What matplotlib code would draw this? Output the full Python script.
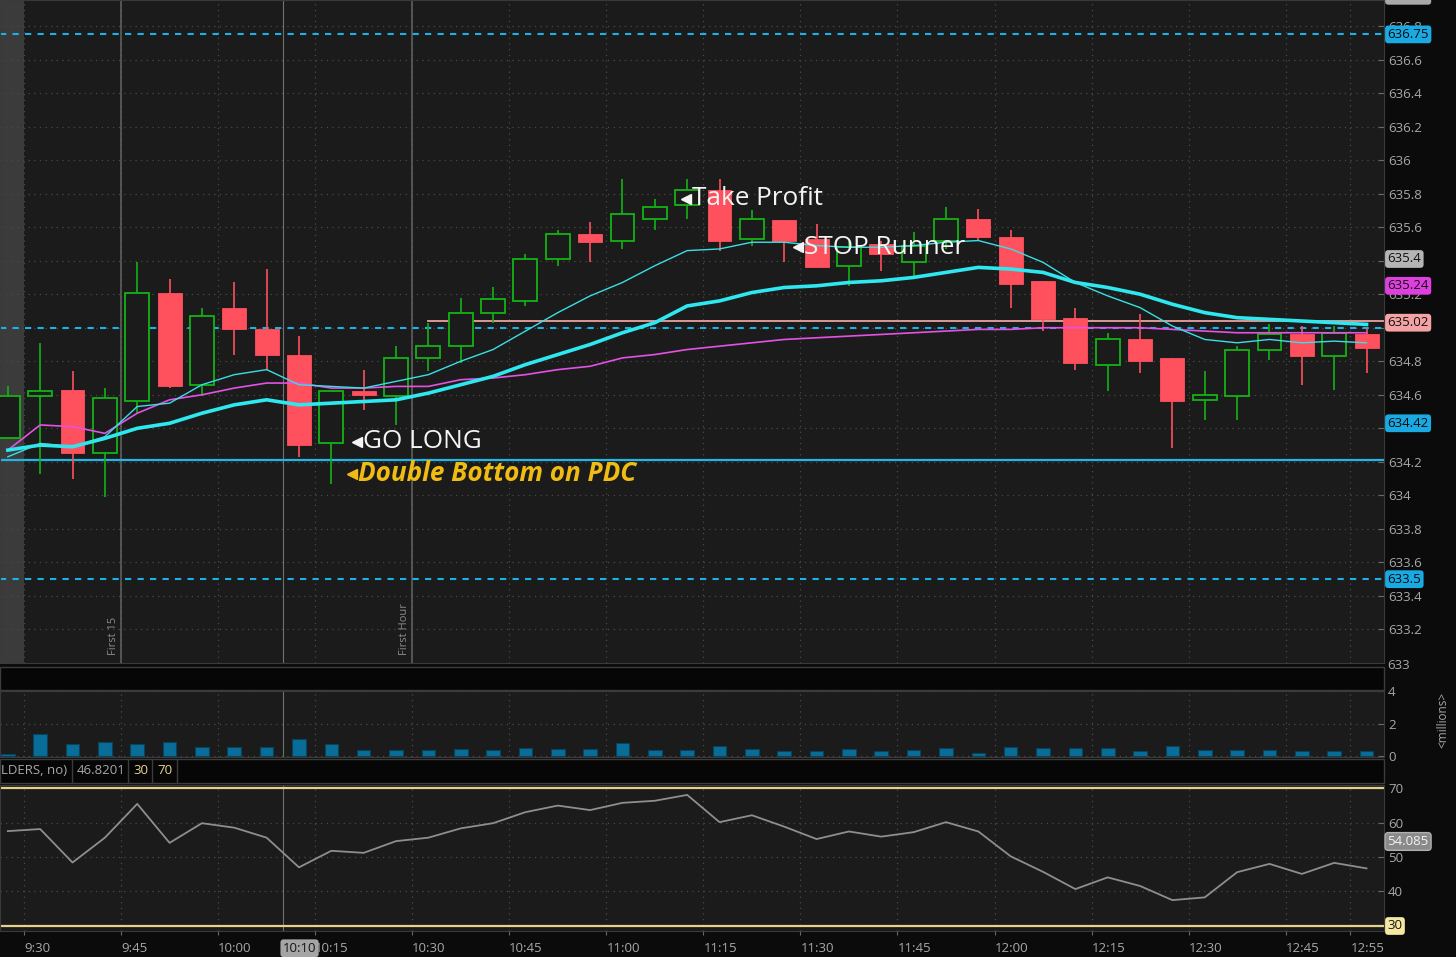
import matplotlib.pyplot as plt
from matplotlib.patches import Rectangle
from matplotlib.lines import Line2D
from matplotlib.transforms import blended_transform_factory
import numpy as np
import pandas as pd

plt.rcParams['font.family'] = ['Open Sans', 'DejaVu Sans']

# 5 min bars, first one is the 9:25 pre-market bar
bar_times = pd.date_range('2021-01-01 09:25', periods=43, freq='5min')

opens = [634.34, 634.59, 634.63, 634.25, 634.56, 635.21, 634.66, 635.12, 634.99, 634.84,
         634.31, 634.62, 634.59, 634.82, 634.89, 635.09, 635.16, 635.41, 635.56, 635.52,
         635.65, 635.73, 635.82, 635.53, 635.64, 635.53, 635.37, 635.50, 635.39, 635.52,
         635.65, 635.54, 635.28, 635.06, 634.78, 634.93, 634.82, 634.57, 634.59, 634.87,
         634.96, 634.83, 634.96]
highs = [634.65, 634.91, 634.74, 634.64, 635.39, 635.29, 635.12, 635.27, 635.35, 634.95,
         634.62, 634.75, 634.89, 635.03, 635.18, 635.24, 635.44, 635.58, 635.63, 635.89,
         635.77, 635.89, 635.89, 635.70, 635.64, 635.62, 635.52, 635.52, 635.57, 635.72,
         635.71, 635.58, 635.28, 635.12, 634.97, 635.08, 634.82, 634.74, 634.89, 635.02,
         635.01, 635.01, 634.99]
lows = [634.34, 634.13, 634.10, 633.99, 634.49, 634.64, 634.59, 634.84, 634.75, 634.23,
        634.07, 634.51, 634.42, 634.74, 634.79, 635.03, 635.13, 635.37, 635.39, 635.47,
        635.58, 635.65, 635.46, 635.49, 635.39, 635.36, 635.25, 635.34, 635.30, 635.47,
        635.52, 635.12, 634.98, 634.75, 634.62, 634.73, 634.28, 634.45, 634.45, 634.81,
        634.66, 634.63, 634.73]
closes = [634.59, 634.62, 634.25, 634.58, 635.21, 634.65, 635.07, 634.99, 634.84, 634.30,
          634.62, 634.60, 634.82, 634.89, 635.09, 635.17, 635.41, 635.56, 635.51, 635.68,
          635.72, 635.82, 635.52, 635.65, 635.52, 635.36, 635.48, 635.44, 635.49, 635.65,
          635.54, 635.26, 635.05, 634.79, 634.93, 634.80, 634.56, 634.60, 634.87, 634.96,
          634.83, 634.97, 634.88]

ema_fast = [634.23, 634.31, 634.29, 634.35, 634.53, 634.55, 634.66, 634.72, 634.75, 634.66,
            634.65, 634.64, 634.68, 634.72, 634.80, 634.87, 634.98, 635.09, 635.19, 635.27,
            635.37, 635.46, 635.47, 635.51, 635.51, 635.49, 635.48, 635.48, 635.49, 635.51,
            635.52, 635.47, 635.39, 635.27, 635.19, 635.12, 635.01, 634.93, 634.91, 634.93,
            634.91, 634.92, 634.91]
ema_slow = [634.27, 634.30, 634.29, 634.34, 634.40, 634.43, 634.49, 634.54, 634.57, 634.54,
            634.55, 634.56, 634.57, 634.61, 634.66, 634.71, 634.78, 634.84, 634.90, 634.97,
            635.03, 635.13, 635.16, 635.21, 635.24, 635.25, 635.27, 635.28, 635.30, 635.33,
            635.36, 635.35, 635.33, 635.27, 635.24, 635.20, 635.14, 635.09, 635.06, 635.05,
            635.04, 635.03, 635.02]
vwap = [634.27, 634.42, 634.41, 634.37, 634.49, 634.57, 634.60, 634.64, 634.67, 634.67,
        634.64, 634.64, 634.65, 634.65, 634.69, 634.70, 634.72, 634.75, 634.77, 634.82,
        634.84, 634.87, 634.89, 634.91, 634.93, 634.94, 634.95, 634.96, 634.97, 634.98,
        634.99, 634.99, 635.00, 635.00, 635.00, 635.00, 634.99, 634.98, 634.97, 634.97,
        634.97, 634.97, 634.97]

volume = [0.10, 1.37, 0.77, 0.85, 0.77, 0.85, 0.57, 0.57, 0.57, 1.03,
          0.71, 0.36, 0.36, 0.36, 0.44, 0.36, 0.48, 0.42, 0.42, 0.79,
          0.36, 0.36, 0.60, 0.42, 0.30, 0.30, 0.42, 0.30, 0.36, 0.48,
          0.18, 0.53, 0.47, 0.47, 0.47, 0.33, 0.60, 0.39, 0.39, 0.39,
          0.33, 0.33, 0.33]

rsi = [57.5, 58.1, 48.4, 55.6, 65.4, 54.1, 59.8, 58.5, 55.6, 47.0,
       51.8, 51.2, 54.6, 55.6, 58.3, 59.8, 63.0, 64.9, 63.6, 65.7,
       66.3, 68.0, 60.1, 62.1, 58.8, 55.2, 57.4, 55.9, 57.2, 60.1,
       57.4, 50.2, 45.7, 40.7, 44.1, 41.6, 37.5, 38.3, 45.6, 48.0,
       45.1, 48.3, 46.7]

# price levels drawn on the chart
dashed_levels = [636.75, 635.00, 633.50]
pdc_level = 634.21
salmon_level = 635.04

# right axis badges: (text, value, face, text colour)
price_badges = [('636.98', 636.98, '#a9a9a9', '#101010'),
                ('636.75', 636.75, '#19a9e3', '#0a0a0a'),
                ('635.4', 635.41, '#b5b5b5', '#101010'),
                ('635.24', 635.25, '#e03fe0', '#101010'),
                ('635.02', 635.03, '#f3a3a3', '#101010'),
                ('634.42', 634.43, '#19a9e3', '#0a0a0a'),
                ('633.5', 633.50, '#19a9e3', '#0a0a0a')]
# tick labels fully hidden behind a badge in the original
hidden_ticks = [635.4, 635.0, 634.4]

# minutes after 9:30 for every bar centre
xc = np.array([(t.hour * 60 + t.minute) - 570 + 2.5 for t in bar_times])

W, H = 1456, 957
BG = '#1b1b1b'
FIG_BG = '#0b0b0b'
GRID = '#4a4a4a'
TXT = '#a8a8a8'
RED = '#ff515d'
GREEN = '#14b214'


def rect(x0, y0, x1, y1):
    return [x0 / W, 1 - y1 / H, (x1 - x0) / W, (y1 - y0) / H]


fig = plt.figure(figsize=(W / 100, H / 100), dpi=100, facecolor=FIG_BG)

ax = fig.add_axes(rect(0, 0, 1384, 663))
ax_vol = fig.add_axes(rect(0, 691, 1384, 757), sharex=ax)
ax_rsi = fig.add_axes(rect(0, 785, 1384, 931), sharex=ax)

xmin, xmax = -3.71, 210.2
ticks15 = list(range(0, 200, 15)) + [205]

for a in (ax, ax_vol, ax_rsi):
    a.set_facecolor(BG)
    for s in a.spines.values():
        s.set_color('#3a3a3a')
    a.yaxis.tick_right()
    a.tick_params(axis='y', direction='in', length=4, colors='#6a6a6a',
                  labelcolor=TXT, labelsize=9.5, pad=3)
    a.set_xticks(ticks15)
    a.grid(True, ls=(0, (1, 3.5)), color=GRID, lw=0.9)
    a.set_axisbelow(True)
    a.axvline(40, color='#707070', lw=0.8, zorder=1)  # 10:10 cursor

ax.set_xlim(xmin, xmax)

# ---------------- price panel ----------------
ax.set_ylim(633.0, 636.955)
pticks = np.round(np.arange(633.2, 636.81, 0.2), 1)
ax.set_yticks(pticks)
ax.set_yticklabels(['' if v in hidden_ticks else f'{v:g}' for v in pticks])
ax.tick_params(axis='x', length=0, labelbottom=False)
ax.text(1.0025, 632.985, '633', transform=blended_transform_factory(ax.transAxes, ax.transData),
        ha='left', va='center', fontsize=9.5, color=TXT, clip_on=False, zorder=1)

ax.axvspan(xmin, 0, color='#3b3b3b', zorder=0.5, lw=0)
for m in (15, 60):
    ax.axvline(m, color='#5e5e5e', lw=1.2, zorder=1)
ax.text(13.8, 633.05, 'First 15', rotation=90, color='#8c8c8c', fontsize=8,
        ha='center', va='bottom')
ax.text(58.8, 633.05, 'First Hour', rotation=90, color='#8c8c8c', fontsize=8,
        ha='center', va='bottom')

for lv in dashed_levels:
    ax.axhline(lv, color='#1cb2e8', lw=1.5, ls=(0, (3, 3)), zorder=2)
ax.axhline(pdc_level, color='#22b6e6', lw=1.6, zorder=2)
ax.plot([xc[13], xmax], [salmon_level, salmon_level], color='#e8a3a3', lw=1.3, zorder=2)

w = 3.7
for x, o, h, l, c in zip(xc, opens, highs, lows, closes):
    if c >= o:
        ax.vlines(x, c, h, color=GREEN, lw=1.2, zorder=3)
        ax.vlines(x, l, o, color=GREEN, lw=1.2, zorder=3)
        ax.add_patch(Rectangle((x - w / 2, o), w, max(c - o, 0.012), facecolor=BG,
                               edgecolor=GREEN, lw=1.3, zorder=3))
    else:
        ax.vlines(x, l, h, color=RED, lw=1.2, zorder=3)
        ax.add_patch(Rectangle((x - w / 2, c), w, max(o - c, 0.012), facecolor=RED,
                               edgecolor=RED, lw=0.6, zorder=3))

ax.plot(xc, vwap, color='#e452e4', lw=1.2, zorder=4)
ax.plot(xc, ema_slow, color='#2ee7ef', lw=2.6, zorder=4)
ax.plot(xc, ema_fast, color='#3adfe6', lw=1.0, zorder=4)

notes = [(102.3, 635.77, 'Take Profit', '#f4f4f4', 'normal', 'normal'),
         (119.6, 635.48, 'STOP Runner', '#f4f4f4', 'normal', 'normal'),
         (51.5, 634.32, 'GO LONG', '#f4f4f4', 'normal', 'normal'),
         (50.7, 634.13, 'Double Bottom on PDC', '#f0bc14', 'bold', 'italic')]
for x, y, s, col, fw, st in notes:
    ax.plot(x, y, marker='<', ms=6.5, color=col, mec=col, zorder=6)
    ax.text(x + 0.9, y, s, color=col, fontsize=18.8, fontweight=fw, fontstyle=st,
            ha='left', va='center', zorder=6)

btr = blended_transform_factory(ax.transAxes, ax.transData)
for s, v, fc, tc in price_badges:
    ax.text(1.0025, v, s, transform=btr, ha='left', va='center', fontsize=9.5,
            color=tc, clip_on=False, zorder=10,
            bbox=dict(boxstyle='round,pad=0.18,rounding_size=0.25', fc=fc, ec='none'))

# ---------------- volume panel ----------------
ax_vol.set_ylim(-0.06, 3.99)
ax_vol.set_yticks([0, 2, 4])
ax_vol.tick_params(axis='x', length=0, labelbottom=False)
ax_vol.bar(xc, volume, width=2.1, color='#0a6d97', edgecolor='#06435e', lw=0.8, zorder=3)
fig.text(1443 / W, 1 - 720 / H, '<millions>', rotation=90, color=TXT, fontsize=8.5,
         ha='center', va='center')

# ---------------- RSI panel ----------------
ax_rsi.set_ylim(28.55, 70.87)
ax_rsi.set_yticks([30, 40, 50, 60, 70])
ax_rsi.set_yticklabels(['', '40', '50', '60', '70'])
ax_rsi.axhline(70, color='#e6d18b', lw=1.6, zorder=2)
ax_rsi.axhline(30, color='#e6d18b', lw=1.6, zorder=2)
ax_rsi.plot(xc, rsi, color='#8e8e8e', lw=1.3, zorder=3)

labels = []
for m in ticks15:
    hh, mm = divmod(570 + m, 60)
    labels.append(f'{hh}:{mm:02d}')
ax_rsi.set_xticklabels(labels)
ax_rsi.tick_params(axis='x', direction='out', length=3, colors='#6a6a6a',
                   labelcolor=TXT, labelsize=9.5, pad=5)
for lb in ax_rsi.get_xticklabels():
    lb.set_horizontalalignment('left')

rtr = blended_transform_factory(ax_rsi.transAxes, ax_rsi.transData)
ax_rsi.text(1.0025, 54.5, '54.085', transform=rtr, ha='left', va='center', fontsize=9.5,
            color='#f2f2f2', clip_on=False, zorder=10,
            bbox=dict(boxstyle='round,pad=0.18,rounding_size=0.25', fc='#8a8a8a', ec='#b0b0b0'))
ax_rsi.text(1.0025, 30, '30', transform=rtr, ha='left', va='center', fontsize=9.5,
            color='#151515', clip_on=False, zorder=10,
            bbox=dict(boxstyle='round,pad=0.18,rounding_size=0.25', fc='#f6e7a2', ec='none'))

ttr = blended_transform_factory(ax_rsi.transData, ax_rsi.transAxes)
ax_rsi.text(40, -0.118, '10:10', transform=ttr, ha='left', va='center', fontsize=9.5,
            color='#151515', clip_on=False, zorder=10,
            bbox=dict(boxstyle='round,pad=0.18,rounding_size=0.25', fc='#a5a5a5', ec='none'))

# header strips
for y0, y1 in ((667, 690), (759, 783)):
    fig.add_artist(Rectangle((0, 1 - y1 / H), 1384 / W, (y1 - y0) / H,
                             transform=fig.transFigure, fc='#060606', ec='#3c3c3c', lw=1))
for xs in (72, 128, 152, 177):
    fig.add_artist(Line2D([xs / W, xs / W], [1 - 782 / H, 1 - 760 / H],
                          transform=fig.transFigure, color='#3c3c3c', lw=1))
fy = 1 - 771 / H
fig.text(67 / W, fy, 'RSI(14, 70, 30, close, WILDERS, no)', ha='right', va='center',
         color=TXT, fontsize=9.5)
fig.text(77 / W, fy, '46.8201', ha='left', va='center', color=TXT, fontsize=9.5)
fig.text(133 / W, fy, '30', ha='left', va='center', color='#e8d48e', fontsize=9.5)
fig.text(157 / W, fy, '70', ha='left', va='center', color='#e8d48e', fontsize=9.5)

fig.savefig('out.png', dpi=100, facecolor=FIG_BG)
